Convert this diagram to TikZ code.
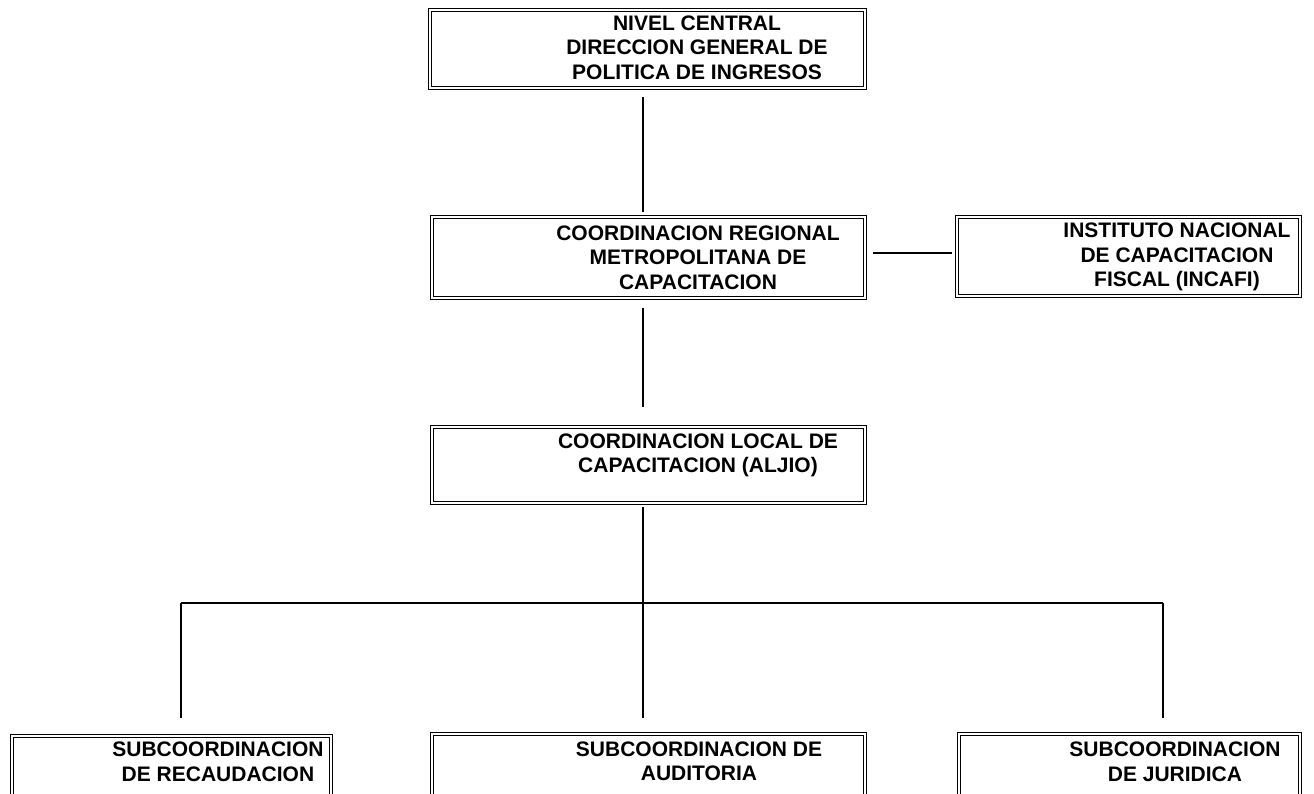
\documentclass[tikz,border=0pt]{standalone}
\usepackage{fontspec}
\setmainfont{Liberation Sans}
\begin{document}
\begin{tikzpicture}[x=1pt,y=-1pt,
  box/.style={draw, double, double distance=1.8pt, line width=1pt, inner sep=0pt},
  lbl/.style={font=\bfseries\fontsize{21}{24.5}\selectfont, align=center, inner sep=0pt},
  conn/.style={line width=1.8pt}]
\useasboundingbox (0,0) rectangle (1314,793);
\clip (0,0) rectangle (1314,793);
% boxes
\node[box, minimum width=435pt, minimum height=78pt] (b1) at (647.5,49) {};
\node[box, minimum width=433pt, minimum height=81pt] (b2) at (648.5,257.5) {};
\node[box, minimum width=343pt, minimum height=79pt] (b3) at (1128.5,256.5) {};
\node[box, minimum width=433pt, minimum height=76pt] (b4) at (648.5,465) {};
\node[box, minimum width=319pt, minimum height=64pt] (b5) at (171.5,768) {};
\node[box, minimum width=433pt, minimum height=66pt] (b6) at (648.5,767) {};
\node[box, minimum width=341pt, minimum height=66pt] (b7) at (1129.5,767) {};
% labels
\node[lbl] (t1) at (697,47.5) {NIVEL CENTRAL\\DIRECCION GENERAL DE\\POLITICA DE INGRESOS};
\node[lbl] (t2) at (698,257.5) {COORDINACION REGIONAL\\METROPOLITANA DE\\CAPACITACION};
\node[lbl] (t3) at (1177,257) {INSTITUTO NACIONAL\\DE CAPACITACION\\FISCAL (INCAFI)};
\node[lbl] (t4) at (698,455.5) {COORDINACION LOCAL DE\\CAPACITACION (ALJIO)};
\node[lbl] (t5) at (218,762) {SUBCOORDINACION\\DE RECAUDACION};
\node[lbl] (t6) at (699,761.5) {SUBCOORDINACION DE\\AUDITORIA};
\node[lbl] (t7) at (1175,762) {SUBCOORDINACION\\DE JURIDICA};
% connector points
\coordinate (a1) at (643,97);
\coordinate (a2) at (643,212);
\coordinate (a3) at (643,308);
\coordinate (a4) at (643,407);
\coordinate (h1) at (873,253);
\coordinate (h2) at (952,253);
\coordinate (d0) at (643,507);
\coordinate (j) at (643,603);
\coordinate (jl) at (181,603);
\coordinate (jr) at (1163,603);
\coordinate (e5) at (181,718);
\coordinate (e6) at (643,718);
\coordinate (e7) at (1163,718);
% connectors
\draw[conn] (a1) -- (a2);
\draw[conn] (a3) -- (a4);
\draw[conn] (h1) -- (h2);
\draw[conn] (d0) -- (j);
\draw[conn] (jl) -- (jr);
\draw[conn] (jl) -- (e5);
\draw[conn] (j) -- (e6);
\draw[conn] (jr) -- (e7);
\end{tikzpicture}
\end{document}
